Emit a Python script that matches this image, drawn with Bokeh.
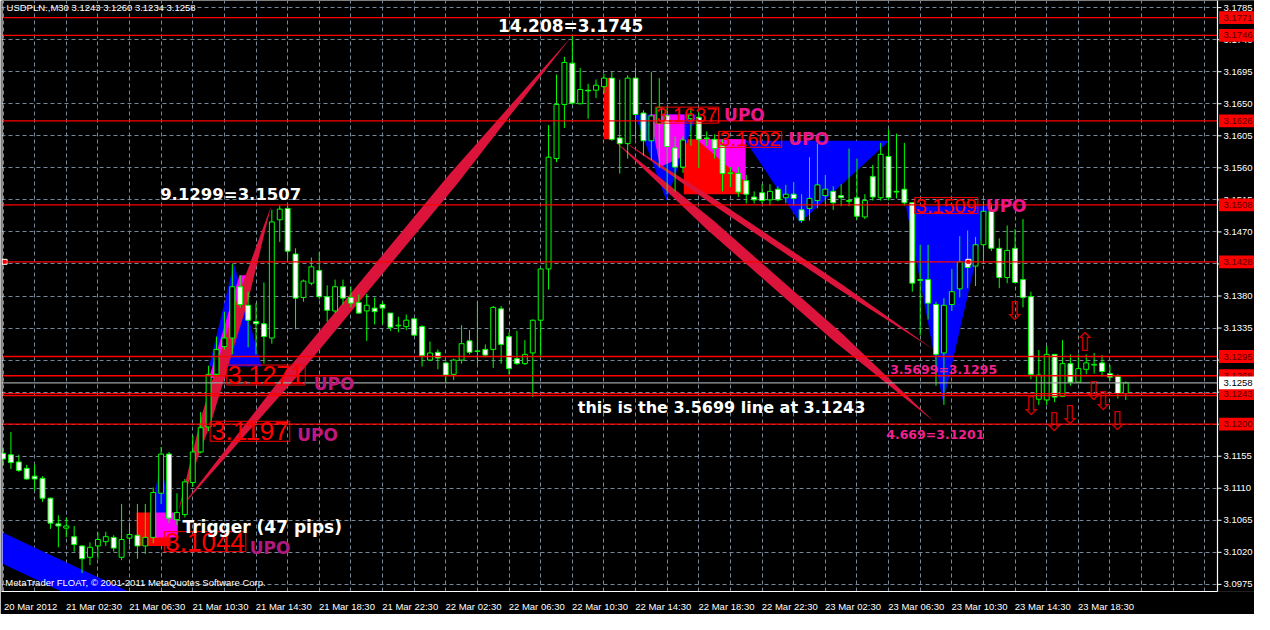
import math
from bokeh.plotting import figure
from bokeh.models import FixedTicker, Label, ColumnDataSource
from bokeh.embed import file_html
from bokeh.resources import INLINE
from bokeh.core.properties import value

# ---------------- data: USDPLN M30 candles (bar index 0 = 20 Mar 2012 22:30) ----------------
opens = [3.1159, 3.1157, 3.1147, 3.1138, 3.1127, 3.1124, 3.1096, 3.1060, 3.1054, 3.1042,
         3.1029, 3.1013, 3.1029, 3.1035, 3.1041, 3.1013, 3.1040, 3.1044, 3.1029, 3.1041,
         3.1103, 3.1158, 3.1066, 3.1073, 3.1118, 3.1161, 3.1196, 3.1270, 3.1309, 3.1321,
         3.1393, 3.1367, 3.1344, 3.1341, 3.1321, 3.1487, 3.1503, 3.1439, 3.1378, 3.1398,
         3.1416, 3.1379, 3.1359, 3.1393, 3.1378, 3.1371, 3.1359, 3.1363, 3.1368, 3.1356,
         3.1338, 3.1337, 3.1348, 3.1337, 3.1290, 3.1301, 3.1286, 3.1270, 3.1290, 3.1317,
         3.1302, 3.1305, 3.1305, 3.1362, 3.1323, 3.1292, 3.1285, 3.1300, 3.1346, 3.1418,
         3.1573, 3.1649, 3.1707, 3.1650, 3.1669, 3.1669, 3.1674, 3.1686, 3.1602, 3.1594,
         3.1686, 3.1637, 3.1598, 3.1622, 3.1633, 3.1588, 3.1561, 3.1629, 3.1631, 3.1602,
         3.1600, 3.1591, 3.1552, 3.1552, 3.1542, 3.1519, 3.1525, 3.1515, 3.1530, 3.1518,
         3.1523, 3.1501, 3.1503, 3.1514, 3.1521, 3.1527, 3.1521, 3.1514, 3.1518, 3.1491,
         3.1548, 3.1518, 3.1576, 3.1527, 3.1530, 3.1511, 3.1403, 3.1403, 3.1368, 3.1300,
         3.1368, 3.1390, 3.1429, 3.1422, 3.1452, 3.1499, 3.1447, 3.1406, 3.1447, 3.1403,
         3.1379, 3.1235, 3.1234, 3.1298, 3.1239, 3.1285, 3.1259, 3.1277, 3.1283, 3.1286,
         3.1271, 3.1267, 3.1243]
highs = [3.1166, 3.1189, 3.1157, 3.1143, 3.1143, 3.1127, 3.1097, 3.1072, 3.1069, 3.1057,
         3.1030, 3.1034, 3.1048, 3.1049, 3.1044, 3.1088, 3.1062, 3.1088, 3.1088, 3.1111,
         3.1168, 3.1161, 3.1103, 3.1123, 3.1184, 3.1217, 3.1282, 3.1323, 3.1358, 3.1425,
         3.1409, 3.1386, 3.1370, 3.1399, 3.1501, 3.1507, 3.1507, 3.1447, 3.1403, 3.1434,
         3.1441, 3.1395, 3.1403, 3.1403, 3.1393, 3.1382, 3.1383, 3.1378, 3.1372, 3.1356,
         3.1351, 3.1354, 3.1349, 3.1339, 3.1316, 3.1305, 3.1288, 3.1292, 3.1339, 3.1332,
         3.1372, 3.1312, 3.1366, 3.1366, 3.1329, 3.1331, 3.1318, 3.1347, 3.1418, 3.1620,
         3.1691, 3.1716, 3.1745, 3.1700, 3.1678, 3.1684, 3.1692, 3.1695, 3.1684, 3.1690,
         3.1701, 3.1641, 3.1695, 3.1686, 3.1645, 3.1604, 3.1604, 3.1645, 3.1638, 3.1611,
         3.1607, 3.1600, 3.1561, 3.1561, 3.1550, 3.1527, 3.1537, 3.1537, 3.1534, 3.1536,
         3.1540, 3.1523, 3.1575, 3.1594, 3.1550, 3.1534, 3.1537, 3.1587, 3.1573, 3.1523,
         3.1564, 3.1595, 3.1614, 3.1608, 3.1595, 3.1512, 3.1452, 3.1452, 3.1372, 3.1377,
         3.1418, 3.1464, 3.1472, 3.1463, 3.1514, 3.1510, 3.1461, 3.1479, 3.1474, 3.1488,
         3.1386, 3.1304, 3.1310, 3.1298, 3.1318, 3.1298, 3.1298, 3.1298, 3.1300, 3.1297,
         3.1283, 3.1270, 3.1260]
lows = [3.1142, 3.1137, 3.1133, 3.1122, 3.1107, 3.1091, 3.1053, 3.1027, 3.1041, 3.1021,
        3.0991, 3.1002, 3.1011, 3.1029, 3.1021, 3.1009, 3.1031, 3.1011, 3.1018, 3.1033,
        3.1088, 3.1061, 3.1058, 3.1069, 3.1112, 3.1159, 3.1190, 3.1267, 3.1305, 3.1298,
        3.1364, 3.1308, 3.1298, 3.1285, 3.1313, 3.1456, 3.1432, 3.1333, 3.1372, 3.1395,
        3.1375, 3.1344, 3.1356, 3.1368, 3.1364, 3.1355, 3.1317, 3.1340, 3.1340, 3.1331,
        3.1329, 3.1332, 3.1324, 3.1281, 3.1289, 3.1277, 3.1258, 3.1262, 3.1285, 3.1298,
        3.1285, 3.1294, 3.1279, 3.1285, 3.1270, 3.1283, 3.1283, 3.1238, 3.1293, 3.1389,
        3.1568, 3.1616, 3.1649, 3.1649, 3.1629, 3.1658, 3.1665, 3.1598, 3.1552, 3.1573,
        3.1600, 3.1577, 3.1571, 3.1560, 3.1523, 3.1527, 3.1553, 3.1591, 3.1560, 3.1591,
        3.1573, 3.1527, 3.1533, 3.1519, 3.1510, 3.1510, 3.1510, 3.1507, 3.1513, 3.1510,
        3.1507, 3.1483, 3.1486, 3.1503, 3.1510, 3.1501, 3.1506, 3.1506, 3.1487, 3.1488,
        3.1514, 3.1514, 3.1514, 3.1517, 3.1507, 3.1386, 3.1325, 3.1347, 3.1254, 3.1227,
        3.1359, 3.1378, 3.1391, 3.1394, 3.1425, 3.1443, 3.1391, 3.1398, 3.1398, 3.1364,
        3.1263, 3.1227, 3.1227, 3.1231, 3.1238, 3.1254, 3.1258, 3.1270, 3.1271, 3.1267,
        3.1261, 3.1236, 3.1234]
closes = [3.1151, 3.1146, 3.1135, 3.1123, 3.1123, 3.1096, 3.1061, 3.1057, 3.1057, 3.1031,
          3.1011, 3.1027, 3.1038, 3.1042, 3.1026, 3.1038, 3.1045, 3.1029, 3.1041, 3.1104,
          3.1158, 3.1068, 3.1076, 3.1119, 3.1161, 3.1195, 3.1270, 3.1305, 3.1321, 3.1393,
          3.1368, 3.1346, 3.1341, 3.1323, 3.1484, 3.1502, 3.1443, 3.1377, 3.1401, 3.1421,
          3.1379, 3.1360, 3.1393, 3.1377, 3.1370, 3.1356, 3.1367, 3.1358, 3.1363, 3.1336,
          3.1339, 3.1346, 3.1325, 3.1296, 3.1300, 3.1293, 3.1269, 3.1290, 3.1313, 3.1301,
          3.1303, 3.1297, 3.1364, 3.1312, 3.1278, 3.1285, 3.1298, 3.1346, 3.1418, 3.1575,
          3.1649, 3.1708, 3.1651, 3.1670, 3.1668, 3.1676, 3.1686, 3.1600, 3.1594, 3.1686,
          3.1635, 3.1598, 3.1633, 3.1645, 3.1590, 3.1561, 3.1599, 3.1634, 3.1600, 3.1601,
          3.1587, 3.1552, 3.1553, 3.1526, 3.1523, 3.1515, 3.1514, 3.1527, 3.1515, 3.1523,
          3.1517, 3.1486, 3.1517, 3.1536, 3.1530, 3.1511, 3.1518, 3.1513, 3.1492, 3.1514,
          3.1519, 3.1579, 3.1518, 3.1526, 3.1511, 3.1398, 3.1402, 3.1370, 3.1298, 3.1367,
          3.1386, 3.1428, 3.1420, 3.1452, 3.1499, 3.1447, 3.1406, 3.1444, 3.1399, 3.1378,
          3.1270, 3.1269, 3.1298, 3.1238, 3.1285, 3.1259, 3.1278, 3.1286, 3.1284, 3.1274,
          3.1266, 3.1243, 3.1258]

time_labels = ["20 Mar 2012", "21 Mar 02:30", "21 Mar 06:30", "21 Mar 10:30", "21 Mar 14:30",
               "21 Mar 18:30", "21 Mar 22:30", "22 Mar 02:30", "22 Mar 06:30", "22 Mar 10:30",
               "22 Mar 14:30", "22 Mar 18:30", "22 Mar 22:30", "23 Mar 02:30", "23 Mar 06:30",
               "23 Mar 10:30", "23 Mar 14:30", "23 Mar 18:30"]
label_bars = [0, 8, 16, 24, 32, 40, 48, 56, 64, 72, 80, 88, 96, 104, 112, 120, 128, 136]
price_ticks = [3.0975, 3.1020, 3.1065, 3.1110, 3.1155, 3.1200, 3.1245, 3.1290, 3.1335, 3.1380,
               3.1425, 3.1470, 3.1515, 3.1560, 3.1605, 3.1650, 3.1695, 3.1740, 3.1785]

hline_prices = [3.1771, 3.1746, 3.1626, 3.1508, 3.1428, 3.1295, 3.1268, 3.1243, 3.1240, 3.1200]
tag_texts = ["3.1771", "3.1746", "3.1626", "3.1508", "3.1428", "3.1295", "3.1268", "3.1243", "3.1200"]
tag_prices = [3.1771, 3.1746, 3.1626, 3.1508, 3.1428, 3.1295, 3.1268, 3.1243, 3.1200]
bid_price = 3.1258
header = "USDPLN.,M30  3.1243 3.1260 3.1234 3.1258"
footer = "MetaTrader FLOAT, \u00a9 2001-2011 MetaQuotes Software Corp."

# drawing objects (bar index, price)
red_fill_bars = [[16.9, 21.2, 21.2, 16.9], [76.0, 76.9, 76.9, 76.0], [86.1, 93.9, 93.9, 86.1]]
red_fill_prices = [[3.1076, 3.1076, 3.1029, 3.1029], [3.1686, 3.1686, 3.1600, 3.1600],
                   [3.1600, 3.1600, 3.1523, 3.1523]]
blue_fill_bars = [[-2.0, 19.9, 11.4, -2.0], [18.7, 21.4, 19.9], [29.2, 32.7, 26.06],
                  [79.9, 87.7, 83.9], [93.9, 112.1, 100.8], [114.2, 124.6, 118.9]]
blue_fill_prices = [[3.1058, 3.0944, 3.0944, 3.1014], [3.1072, 3.1072, 3.1146],
                    [3.1426, 3.1281, 3.1281], [3.1635, 3.1635, 3.1514],
                    [3.1598, 3.1598, 3.1483], [3.1506, 3.1506, 3.1230]]
magenta_fill_bars = [[18.6, 22.1, 22.1, 18.6], [26.06, 28.06, 30.8, 29.9],
                     [81.8, 86.2, 86.2, 83.1], [87.7, 93.9, 93.9]]
magenta_fill_prices = [[3.1076, 3.1076, 3.1041, 3.1041], [3.1265, 3.1265, 3.1409, 3.1409],
                       [3.1635, 3.1635, 3.1577, 3.1561], [3.1600, 3.1600, 3.1540]]

band_bar0 = [22.2, 22.2, 78.1, 77.3]
band_price0 = [3.1079, 3.1079, 3.1600, 3.1598]
band_bar1 = [33.9, 71.8, 117.7, 117.7]
band_price1 = [3.1506, 3.1743, 3.1305, 3.1204]

box_texts = ["3.1271", "3.1197", "3.1044", "3.1637", "3.1602", "3.1509"]
box_bars = [28.3, 26.2, 20.4, 82.5, 90.5, 115.3]
box_prices = [3.1269, 3.1190, 3.1035, 3.1634, 3.1600, 3.1507]
upo_bars = [39.3, 37.2, 31.2, 91.2, 99.3, 124.3]
upo_prices = [3.1257, 3.1185, 3.1026, 3.1634, 3.1600, 3.1507]

white_notes = ["14.208=3.1745", "9.1299=3.1507", "this is the 3.5699 line at 3.1243", "Trigger (47 pips)"]
white_note_bars = [71.8, 28.8, 72.7, 22.7]
white_note_prices = [3.1759, 3.1522, 3.1223, 3.1056]
pink_notes = ["3.5699=3.1295", "4.669=3.1201"]
pink_note_bars = [112.2, 111.7]
pink_note_prices = [3.1277, 3.1185]

arrow_glyphs = ["\u21e9", "\u21e9", "\u21e9", "\u21e9", "\u21e7", "\u21e9", "\u21e9", "\u21e9"]
arrow_bars = [127.9, 130.0, 132.9, 134.9, 136.8, 137.9, 139.1, 140.9]
arrow_prices = [3.1359, 3.1226, 3.1203, 3.1213, 3.1315, 3.1246, 3.1232, 3.1205]

select_bars = [0.2, 122.1]
select_prices = [3.1428, 3.1428]

# ---------------- figure ----------------
W, H = 1254, 614
X0, X_AX = -0.19, 153.6            # left edge and price-axis position, in bars
AX_PX = 1216                        # price-axis position in px from frame left
X_END = X0 + (X_AX - X0) * (W - 1) / AX_PX
Y0, Y1 = 3.0965, 3.1795
PXB = AX_PX / (X_AX - X0)
PXP = 598.0 / (Y1 - Y0)

p = figure(width=W, height=H, x_range=(X0, X_END), y_range=(Y0, Y1),
           output_backend="svg", toolbar_location=None, y_axis_location=None,
           background_fill_color="black", border_fill_color="black",
           outline_line_color=None, min_border_left=1, min_border_top=0,
           min_border_right=0, min_border_bottom=4)

p.xaxis.ticker = FixedTicker(ticks=[b + 3.5 for b in label_bars])
p.xaxis.major_label_overrides = {b + 3.5: t for b, t in zip(label_bars, time_labels)}
p.xaxis.bounds = (X0, X_AX)
p.xaxis.major_tick_line_color = None
p.xaxis.minor_tick_line_color = None
p.xaxis.axis_line_color = "white"
p.xaxis.major_label_text_color = "white"
p.xaxis.major_label_text_font = "Liberation Sans"
p.xaxis.major_label_text_font_size = "9.5px"
p.xaxis.major_label_standoff = 3

p.xgrid.ticker = FixedTicker(ticks=list(range(0, 154, 4)))
p.ygrid.ticker = FixedTicker(ticks=price_ticks)
for g in (p.xgrid, p.ygrid):
    g.grid_line_color = "#778899"
    g.grid_line_dash = "4 3"

# filled objects
p.patches(xs=red_fill_bars, ys=red_fill_prices, fill_color="#ff0000", line_color=None)
p.patches(xs=blue_fill_bars, ys=blue_fill_prices, fill_color="#0000ff", line_color=None)
p.patches(xs=magenta_fill_bars, ys=magenta_fill_prices, fill_color="#ff00ff", line_color=None)


def band(x0, y0, x1, y1, w):
    dx, dy = (x1 - x0) * PXB, (y1 - y0) * PXP
    L = math.hypot(dx, dy)
    ox = (-dy / L) * w / 2 / PXB
    oy = (dx / L) * w / 2 / PXP
    xa, ya = x0 + 0.3 * (x1 - x0), y0 + 0.3 * (y1 - y0)
    xb, yb = x0 + 0.7 * (x1 - x0), y0 + 0.7 * (y1 - y0)
    return ([x0, xa + ox, xb + ox, x1, xb - ox, xa - ox],
            [y0, ya + oy, yb + oy, y1, yb - oy, ya - oy])


band_widths = [11, 12, 6, 11]
bxs, bys = [], []
for a, b, c, d, w in zip(band_bar0, band_price0, band_bar1, band_price1, band_widths):
    xs_, ys_ = band(a, b, c, d, w)
    bxs.append(xs_)
    bys.append(ys_)
p.patches(xs=bxs, ys=bys, fill_color="#dc143c", line_color=None)

# candles
bars = list(range(len(opens)))
src = ColumnDataSource(dict(
    x=bars, h=highs, l=lows,
    top=[max(o, c) for o, c in zip(opens, closes)],
    bot=[min(o, c) for o, c in zip(opens, closes)],
    fill=["black" if c >= o else "white" for o, c in zip(opens, closes)]))
p.segment(x0="x", y0="l", x1="x", y1="h", source=src, line_color="#00ff00", line_width=1)
p.vbar(x="x", width=0.62, top="top", bottom="bot", source=src,
       fill_color="fill", line_color="#00ff00", line_width=1)

p.scatter(select_bars, select_prices, marker="square", size=5,
          fill_color="#ff0000", line_color="white")

# horizontal lines (up to the price axis)
n = len(hline_prices)
p.segment(x0=[X0] * n, y0=hline_prices, x1=[X_AX] * n, y1=hline_prices,
          line_color="#ff0000", line_width=1.3)
p.segment(x0=[X0], y0=[bid_price], x1=[X_AX], y1=[bid_price], line_color="#a0a0a0", line_width=1.2)

# price axis column (right side)
p.quad(left=[X_AX], right=[X_END + 1], bottom=[Y0 - 0.01], top=[Y1 + 0.01],
       fill_color="black", line_color=None)
p.segment(x0=[X_AX], y0=[Y0 - 0.01], x1=[X_AX], y1=[Y1 + 0.01], line_color="white", line_width=1.2)
p.segment(x0=[X0 + 0.06], y0=[Y0 - 0.01], x1=[X0 + 0.06], y1=[Y1 + 0.01], line_color="white", line_width=1.2)
nt = len(price_ticks)
p.segment(x0=[X_AX] * nt, y0=price_ticks, x1=[X_AX + 4 / PXB] * nt, y1=price_ticks,
          line_color="white", line_width=1)
p.text(x=[X_AX + 6 / PXB] * nt, y=price_ticks, text=["%.4f" % t for t in price_ticks],
       text_color="white", text_font=value("Liberation Sans"), text_font_size=value("9.5px"),
       text_baseline="middle", text_align="left")
half = 6.5 / PXP
p.quad(left=[X_AX + 1.5 / PXB] * len(tag_prices), right=[X_END + 1] * len(tag_prices),
       bottom=[t - half for t in tag_prices], top=[t + half for t in tag_prices],
       fill_color="#ff0000", line_color=None)
p.text(x=[X_AX + 6 / PXB] * len(tag_prices), y=tag_prices, text=tag_texts,
       text_color="#5a0000", text_font=value("Liberation Sans"), text_font_size=value("9.5px"),
       text_baseline="middle", text_align="left")
p.quad(left=[X_AX + 1.5 / PXB], right=[X_END + 1], bottom=[bid_price - half],
       top=[bid_price + half], fill_color="white", line_color=None)
p.text(x=[X_AX + 6 / PXB], y=[bid_price], text=["%.4f" % bid_price],
       text_color="black", text_font=value("Liberation Sans"), text_font_size=value("9.5px"),
       text_baseline="middle", text_align="left")

# boxed red price labels
box_sizes = ["25px", "26px", "26px", "20px", "20px", "20px"]
for t, xb, yb, fs in zip(box_texts, box_bars, box_prices, box_sizes):
    p.add_layout(Label(x=xb, y=yb, text=t, text_align="left", text_baseline="middle",
                       text_color="#ff0000", text_font="Liberation Sans", text_font_size=fs,
                       border_line_color="#ff0000", padding=1))
upo_colors = ["#c0187f", "#c0187f", "#b01a80", "#ea178a", "#ea178a", "#ea178a"]
for xb, yb, col in zip(upo_bars, upo_prices, upo_colors):
    p.add_layout(Label(x=xb, y=yb, text="UPO", text_align="left", text_baseline="middle",
                       text_color=col, text_font="DejaVu Sans", text_font_style="bold",
                       text_font_size="17px"))

white_aligns = ["center", "center", "left", "left"]
white_sizes = ["17px", "16.5px", "16px", "17px"]
for t, xb, yb, al, fs in zip(white_notes, white_note_bars, white_note_prices, white_aligns, white_sizes):
    p.add_layout(Label(x=xb, y=yb, text=t, text_align=al, text_baseline="middle",
                       text_color="white", text_font="DejaVu Sans", text_font_style="bold",
                       text_font_size=fs))
for t, xb, yb in zip(pink_notes, pink_note_bars, pink_note_prices):
    p.add_layout(Label(x=xb, y=yb, text=t, text_align="left", text_baseline="middle",
                       text_color="#f0208c", text_font="DejaVu Sans", text_font_style="bold",
                       text_font_size="12.5px"))

for t, xb, yb in zip(arrow_glyphs, arrow_bars, arrow_prices):
    p.add_layout(Label(x=xb, y=yb, text=t, text_align="center", text_baseline="middle",
                       text_color="#d00000", text_font="DejaVu Sans", text_font_size="26px"))

p.add_layout(Label(x=0.45, y=3.1785, text=header, text_align="left", text_baseline="middle",
                   text_color="white", text_font="Liberation Sans", text_font_size="9.5px"))
p.add_layout(Label(x=0.3, y=3.0977, text=footer, text_align="left", text_baseline="middle",
                   text_color="white", text_font="Liberation Sans", text_font_size="9.5px"))

open("out.html", "w").write(file_html(p, INLINE))
